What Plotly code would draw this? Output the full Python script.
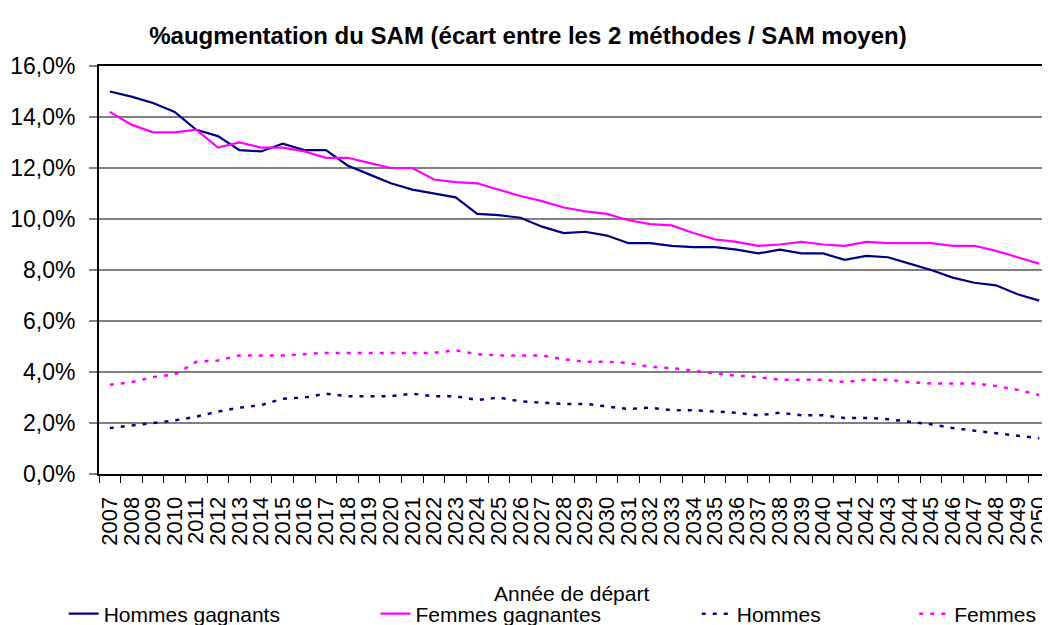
import plotly.graph_objects as go

years = [str(y) for y in range(2007, 2051)]

hommes_gagnants = [15.0, 14.8, 14.55, 14.2, 13.5, 13.25, 12.7, 12.65, 12.95, 12.7,
                   12.7, 12.1, 11.75, 11.4, 11.15, 11.0, 10.85, 10.2, 10.15, 10.05,
                   9.7, 9.45, 9.5, 9.35, 9.05, 9.05, 8.95, 8.9, 8.9, 8.8,
                   8.65, 8.8, 8.65, 8.65, 8.4, 8.55, 8.5, 8.25, 8.0, 7.7,
                   7.5, 7.4, 7.05, 6.8]

femmes_gagnantes = [14.2, 13.7, 13.4, 13.4, 13.5, 12.8, 13.0, 12.8, 12.8, 12.65,
                    12.4, 12.4, 12.2, 12.0, 12.0, 11.55, 11.45, 11.4, 11.15, 10.9,
                    10.7, 10.45, 10.3, 10.2, 9.95, 9.8, 9.75, 9.45, 9.2, 9.1,
                    8.95, 9.0, 9.1, 9.0, 8.95, 9.1, 9.05, 9.05, 9.05, 8.95,
                    8.95, 8.75, 8.5, 8.25]

hommes = [1.8, 1.9, 2.0, 2.1, 2.25, 2.45, 2.6, 2.7, 2.95, 3.0,
          3.15, 3.05, 3.05, 3.05, 3.15, 3.05, 3.05, 2.9, 3.0, 2.85,
          2.8, 2.75, 2.75, 2.65, 2.55, 2.6, 2.5, 2.5, 2.45, 2.4,
          2.3, 2.4, 2.3, 2.3, 2.2, 2.2, 2.15, 2.05, 1.95, 1.8,
          1.7, 1.6, 1.5, 1.4]

femmes = [3.5, 3.6, 3.8, 3.9, 4.4, 4.45, 4.65, 4.65, 4.65, 4.7,
          4.75, 4.75, 4.75, 4.75, 4.75, 4.75, 4.85, 4.7, 4.65, 4.65,
          4.65, 4.5, 4.4, 4.4, 4.35, 4.2, 4.15, 4.05, 3.95, 3.85,
          3.8, 3.7, 3.7, 3.7, 3.6, 3.7, 3.7, 3.6, 3.55, 3.55,
          3.55, 3.45, 3.3, 3.1]

navy = "#000080"
magenta = "#FF00FF"
font = "Liberation Sans, Arial, sans-serif"

series = [
    ("Hommes gagnants", hommes_gagnants, navy, "solid", "legend"),
    ("Femmes gagnantes", femmes_gagnantes, magenta, "solid", "legend2"),
    ("Hommes", hommes, navy, "4px,7px", "legend3"),
    ("Femmes", femmes, magenta, "4px,7px", "legend4"),
]

fig = go.Figure()
for name, vals, colour, dash, leg in series:
    fig.add_trace(go.Scatter(
        x=years, y=[v / 100 for v in vals],
        mode="lines", name=name, legend=leg,
        line=dict(color=colour, width=2.2 if dash == "solid" else 2.5, dash=dash),
    ))

# one legend per entry so each one sits where the original put it
legend_common = dict(orientation="h", xref="container", yref="container",
                     y=0.0178, yanchor="middle", xanchor="left",
                     font=dict(family=font, size=21, color="black"),
                     bgcolor="rgba(0,0,0,0)", itemwidth=30)

# the page body adds an 8px margin, so the figure is 8px smaller each way
fig.update_layout(
    width=1042, height=617,
    showlegend=True,
    plot_bgcolor="white", paper_bgcolor="white",
    separators=", ",
    margin=dict(l=91, r=0, t=58, b=151),
    font=dict(family=font, color="black"),
    title=dict(text="<b>%augmentation du SAM (écart entre les 2 méthodes / SAM moyen)</b>",
               x=0.499, xanchor="center", y=0.9546, yanchor="middle",
               font=dict(family=font, size=24, color="black")),
    legend=dict(x=0.0534, **legend_common),
    legend2=dict(x=0.3527, **legend_common),
    legend3=dict(x=0.661, **legend_common),
    legend4=dict(x=0.8697, **legend_common),
    annotations=[dict(text="Année de départ", xref="paper", yref="paper",
                      x=0.497, y=-0.292, xanchor="center", yanchor="middle",
                      showarrow=False, font=dict(family=font, size=21, color="black"))],
)

fig.update_xaxes(
    type="category", range=[-0.5, 43.5],
    tickmode="array", tickvals=years, ticktext=years,
    showline=True, linecolor="black", linewidth=2, mirror=True,
    ticks="outside", tickson="boundaries", ticklen=7, tickcolor="black", tickwidth=1,
    tickangle=-90, tickfont=dict(family=font, size=22, color="black"),
    ticklabelstandoff=12, automargin=False,
    showgrid=False, zeroline=False,
)
fig.update_yaxes(
    range=[0, 0.16], dtick=0.02, tickformat=".1%",
    showline=True, linecolor="black", linewidth=2,
    ticks="outside", ticklen=8, tickcolor="#808080", tickwidth=2,
    tickfont=dict(family=font, size=23, color="black"),
    ticklabelstandoff=9, automargin=False,
    showgrid=True, gridcolor="#808080", gridwidth=2,
    zeroline=False,
)

fig.write_html("out.html")
